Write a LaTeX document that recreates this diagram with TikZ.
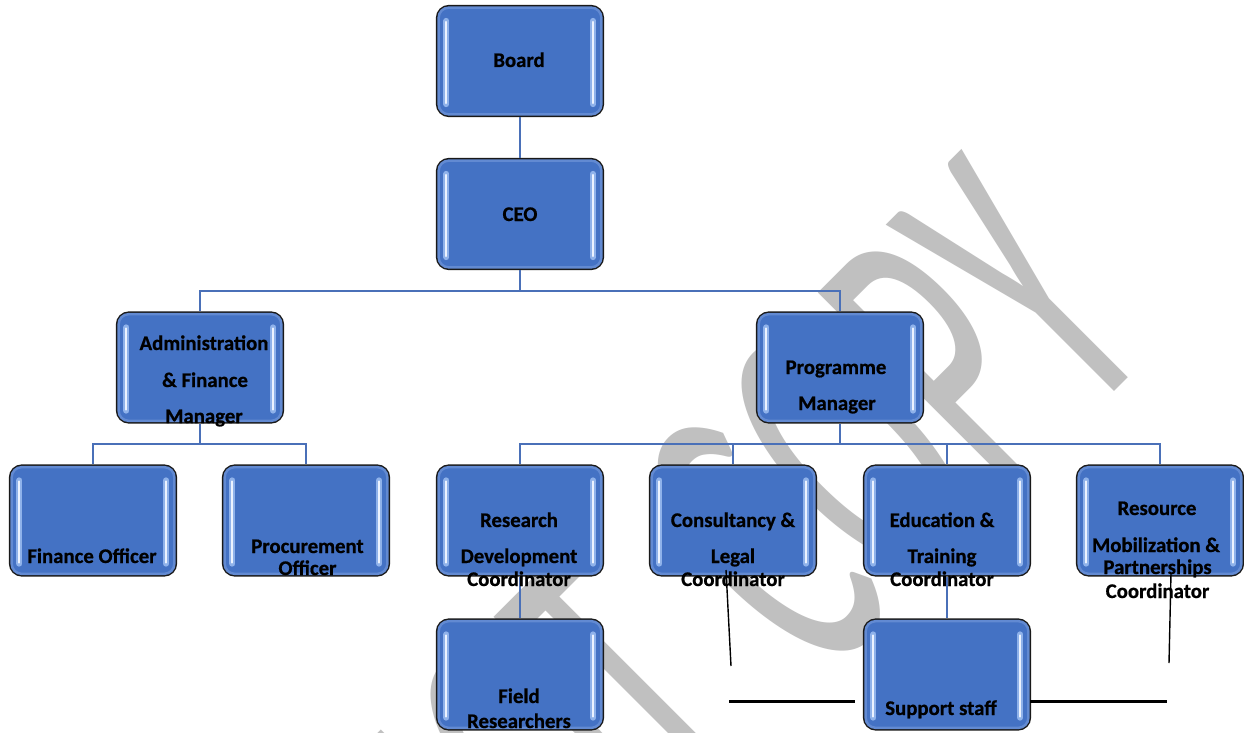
\documentclass[tikz,border=0pt]{standalone}
\usepackage{fontspec}
\setmainfont{Carlito}[BoldFeatures={FakeBold=0.7}]
\newfontfamily\wmfont{Carlito}
\definecolor{boxblue}{RGB}{68,114,196}
\definecolor{linkblue}{RGB}{74,112,184}
\definecolor{wmgray}{RGB}{192,192,192}
\definecolor{bandblue}{RGB}{98,138,210}
\definecolor{barout}{RGB}{143,178,234}
\definecolor{barin}{RGB}{236,243,255}
\tikzset{
  obox/.style={rectangle, rounded corners=12pt, minimum width=166pt, minimum height=110pt,
    inner sep=0pt, fill=boxblue, draw=black!90, line width=2.3pt},
  band/.style={draw=bandblue, line width=2.5pt, rounded corners=10pt},
  barA/.style={draw=barout, line width=6pt, line cap=round},
  barB/.style={draw=barin, line width=2pt, line cap=round},
  link/.style={draw=linkblue, line width=2.6pt},
  txt/.style={anchor=base, inner sep=0pt, font=\bfseries\fontsize{20.8}{24}\selectfont, text=black},
  thinblk/.style={draw=black, line width=1.4pt},
  thickblk/.style={draw=black, line width=3pt},
}
\newcommand\orgbox[3]{%
  \node[obox] (#1) at (#2,#3) {};
  \draw[band] ([shift={(2.8pt,-2.8pt)}]#1.north west) rectangle ([shift={(-2.8pt,2.8pt)}]#1.south east);
  \draw[barA] ([shift={(10.5pt,-16pt)}]#1.north west) -- ([shift={(10.5pt,13pt)}]#1.south west);
  \draw[barB] ([shift={(10.5pt,-17pt)}]#1.north west) -- ([shift={(10.5pt,14pt)}]#1.south west);
  \draw[barA] ([shift={(-11pt,-16pt)}]#1.north east) -- ([shift={(-11pt,13pt)}]#1.south east);
  \draw[barB] ([shift={(-11pt,-17pt)}]#1.north east) -- ([shift={(-11pt,14pt)}]#1.south east);
}
\newcommand\tline[4]{\node[txt] (#1) at (#2,#3) {#4};}
\begin{document}
\begin{tikzpicture}[x=1pt,y=-1pt]
\useasboundingbox[fill=white] (0,0) rectangle (1244,733);
% watermark
\begin{scope}[shift={(1160,346)}, rotate=45, xscale=2.2, yscale=4.35]
  \node[transform shape, anchor=base east, inner sep=0pt, text=wmgray,
        font=\wmfont\fontsize{100}{100}\selectfont] (wm) at (0,0) {DO NOT\kern12.7pt\ COPY};
\end{scope}
% bus coordinates
\coordinate (bus1) at (520,291);
\coordinate (bus2) at (200,444);
\coordinate (bus3) at (840,444);
% boxes
\orgbox{board}{520}{61}
\orgbox{ceo}{520}{214}
\orgbox{afm}{200}{367.5}
\orgbox{pm}{840}{367.5}
\orgbox{fo}{93}{520.5}
\orgbox{po}{306}{520.5}
\orgbox{rdc}{520}{520.5}
\orgbox{clc}{733}{520.5}
\orgbox{etc}{947}{520.5}
\orgbox{rmp}{1160}{520.5}
\orgbox{fr}{520}{674.5}
\orgbox{ss}{947}{674.5}
% connectors (behind boxes)
\begin{scope}[on background layer/.try]
\end{scope}
\draw[link] (board.south) -- (ceo.north);
\draw[link] (ceo.south) -- (bus1);
\draw[link] (afm.north) |- (bus1) -| (pm.north);
\draw[link] (afm.south) -- (bus2);
\draw[link] (fo.north) |- (bus2) -| (po.north);
\draw[link] (pm.south) -- (bus3);
\draw[link] (rdc.north) |- (bus3) -| (rmp.north);
\draw[link] (clc.north) -- (clc.north |- bus3);
\draw[link] (etc.north) -- (etc.north |- bus3);
\draw[link] (rdc.south) -- (fr.north);
\draw[link] (etc.south) -- (ss.north);
% texts
\tline{t-board}{519}{67}{Board}
\tline{t-ceo}{520}{221}{CEO}
\tline{t-afm1}{204}{350}{Administration}
\tline{t-afm2}{205}{387}{\& Finance}
\tline{t-afm3}{204}{423}{Manager}
\tline{t-pm1}{836}{374}{Programme}
\tline{t-pm2}{837}{410}{Manager}
\tline{t-fo}{92}{563}{Finance Officer}
\tline{t-po1}{307.5}{553}{Procurement}
\tline{t-po2}{307.5}{575}{Officer}
\tline{t-rdc1}{519}{527}{Research}
\tline{t-rdc2}{519}{563}{Development}
\tline{t-rdc3}{519}{586}{Coordinator}
\tline{t-clc1}{733}{527}{Consultancy \&}
\tline{t-clc2}{733}{563}{Legal}
\tline{t-clc3}{733}{586}{Coordinator}
\tline{t-etc1}{942}{527}{Education \&}
\tline{t-etc2}{942}{563}{Training}
\tline{t-etc3}{942}{586}{Coordinator}
\tline{t-rmp1}{1157}{515}{Resource}
\tline{t-rmp2}{1156}{552}{Mobilization \&}
\tline{t-rmp3}{1157.5}{574}{Partnerships}
\tline{t-rmp4}{1157.5}{598}{Coordinator}
\tline{t-fr1}{519}{703}{Field}
\tline{t-fr2}{519}{728}{Researchers}
\tline{t-ss}{941}{715}{Support staff}
% black lines
\coordinate (l1a) at (726,570); \coordinate (l1b) at (731,666);
\coordinate (l2a) at (1171,573); \coordinate (l2b) at (1169,663);
\coordinate (h1a) at (729,701); \coordinate (h1b) at (855,701);
\coordinate (h2a) at (1030,701); \coordinate (h2b) at (1167,701);
\draw[thinblk] (l1a) -- (l1b);
\draw[thinblk] (l2a) -- (l2b);
\draw[thickblk] (h1a) -- (h1b);
\draw[thickblk] (h2a) -- (h2b);
\end{tikzpicture}
\end{document}
